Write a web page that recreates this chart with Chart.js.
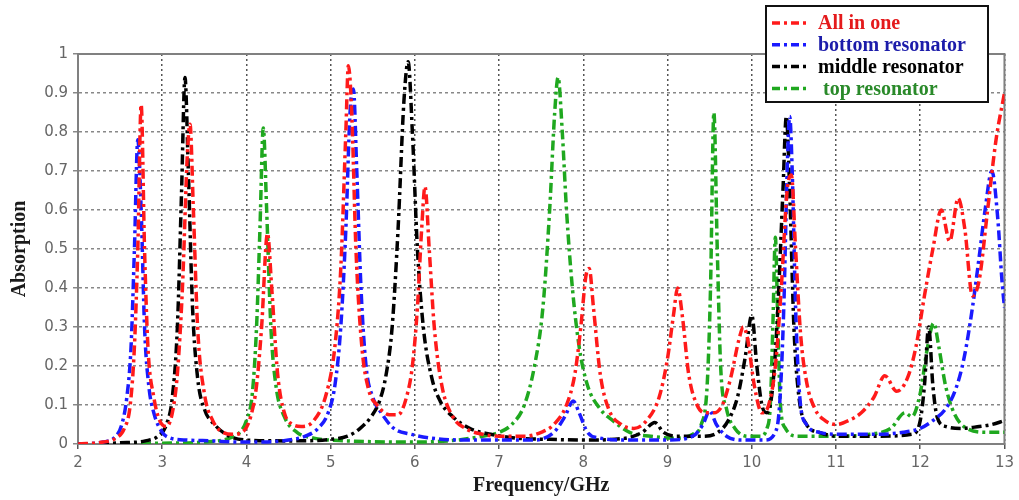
<!DOCTYPE html>
<html>
<head>
<meta charset="utf-8">
<script src="https://cdn.jsdelivr.net/npm/chart.js@4"></script>
<style>
  body { margin: 0; background: #fff; }
</style>
</head>
<body>
<canvas id="myChart" width="1019" height="500"></canvas>
<script>
// values, frequency in GHz
const allInOneFreq = [2.0, 2.3, 2.45, 2.55, 2.62, 2.67, 2.71, 2.75, 2.79, 2.83, 2.9, 2.97, 3.05, 3.12, 3.18, 3.24, 3.3, 3.33, 3.37, 3.42, 3.5, 3.6, 3.72, 3.85, 3.95, 4.05, 4.12, 4.18, 4.25, 4.3, 4.37, 4.45, 4.55, 4.65, 4.8, 4.95, 5.05, 5.12, 5.18, 5.21, 5.25, 5.3, 5.37, 5.45, 5.55, 5.7, 5.8, 5.9, 5.97, 6.03, 6.08, 6.12, 6.17, 6.23, 6.32, 6.45, 6.6, 6.8, 7.0, 7.3, 7.5, 7.65, 7.8, 7.9, 7.97, 8.03, 8.07, 8.12, 8.2, 8.3, 8.45, 8.6, 8.75, 8.9, 9.0, 9.07, 9.12, 9.18, 9.25, 9.35, 9.45, 9.55, 9.65, 9.75, 9.85, 9.9, 9.95, 10.03, 10.12, 10.2, 10.28, 10.35, 10.42, 10.47, 10.52, 10.58, 10.65, 10.75, 10.87, 11.0, 11.15, 11.3, 11.45, 11.58, 11.72, 11.85, 11.95, 12.05, 12.15, 12.25, 12.35, 12.45, 12.53, 12.62, 12.7, 12.8, 12.9, 13.0];
const allInOneAbs = [0.0, 0.005, 0.015, 0.04, 0.1, 0.25, 0.5, 0.87, 0.5, 0.25, 0.12, 0.06, 0.045, 0.08, 0.18, 0.4, 0.75, 0.82, 0.6, 0.3, 0.13, 0.06, 0.03, 0.025, 0.03, 0.07, 0.15, 0.3, 0.54, 0.4, 0.18, 0.08, 0.05, 0.045, 0.06, 0.13, 0.25, 0.45, 0.8, 0.97, 0.85, 0.5, 0.25, 0.14, 0.1, 0.075, 0.075, 0.12, 0.2, 0.35, 0.55, 0.66, 0.5, 0.3, 0.15, 0.07, 0.04, 0.025, 0.02, 0.02, 0.03, 0.05, 0.1, 0.18, 0.3, 0.43, 0.45, 0.35, 0.18, 0.09, 0.05, 0.04, 0.06, 0.12, 0.22, 0.33, 0.4, 0.32, 0.18, 0.1, 0.08, 0.08, 0.1, 0.17, 0.27, 0.3, 0.27, 0.15, 0.08, 0.1, 0.2, 0.4, 0.65, 0.69, 0.5, 0.28, 0.16, 0.09, 0.06, 0.05, 0.06, 0.08, 0.12, 0.175, 0.135, 0.17, 0.25, 0.38, 0.5, 0.6, 0.52, 0.63, 0.55, 0.38, 0.42, 0.6, 0.78, 0.9];

const bottomFreq = [2.0, 2.3, 2.45, 2.52, 2.58, 2.63, 2.67, 2.71, 2.75, 2.79, 2.84, 2.9, 3.0, 3.1, 3.3, 3.6, 3.9, 4.2, 4.5, 4.7, 4.85, 4.97, 5.05, 5.12, 5.18, 5.23, 5.27, 5.31, 5.36, 5.42, 5.5, 5.6, 5.75, 5.95, 6.2, 6.6, 7.0, 7.4, 7.65, 7.78, 7.88, 7.95, 8.05, 8.2, 8.5, 9.0, 9.3, 9.42, 9.5, 9.58, 9.7, 9.9, 10.15, 10.28, 10.33, 10.38, 10.42, 10.45, 10.48, 10.52, 10.57, 10.65, 10.8, 11.0, 11.5, 11.8, 12.0, 12.15, 12.3, 12.42, 12.52, 12.62, 12.7, 12.77, 12.85, 12.92, 12.97, 13.0];
const bottomAbs = [0.0, 0.005, 0.02, 0.05, 0.12, 0.25, 0.5, 0.78, 0.6, 0.3, 0.15, 0.08, 0.03, 0.015, 0.01, 0.008, 0.005, 0.005, 0.01, 0.02, 0.04, 0.08, 0.15, 0.3, 0.55, 0.85, 0.91, 0.7, 0.4, 0.2, 0.12, 0.08, 0.04, 0.025, 0.015, 0.01, 0.01, 0.01, 0.03, 0.07, 0.11, 0.08, 0.03, 0.015, 0.01, 0.01, 0.02, 0.05, 0.085, 0.05, 0.02, 0.01, 0.01, 0.03, 0.1, 0.35, 0.7, 0.84, 0.7, 0.35, 0.12, 0.05, 0.03, 0.025, 0.025, 0.03, 0.04, 0.06, 0.09, 0.14, 0.22, 0.35, 0.48, 0.6, 0.7, 0.58, 0.42, 0.35];

const middleFreq = [2.0, 2.5, 2.8, 2.95, 3.05, 3.12, 3.18, 3.23, 3.27, 3.31, 3.36, 3.42, 3.5, 3.62, 3.8, 4.0, 4.5, 5.0, 5.2, 5.35, 5.48, 5.58, 5.66, 5.73, 5.8, 5.87, 5.92, 5.97, 6.03, 6.1, 6.2, 6.3, 6.45, 6.65, 6.9, 7.2, 7.6, 8.0, 8.5, 8.7, 8.85, 8.95, 9.1, 9.4, 9.6, 9.72, 9.83, 9.92, 10.0, 10.06, 10.12, 10.18, 10.25, 10.31, 10.37, 10.41, 10.45, 10.5, 10.56, 10.65, 10.8, 11.0, 11.5, 11.9, 12.0, 12.05, 12.1, 12.15, 12.2, 12.3, 12.5, 12.7, 12.85, 13.0];
const middleAbs = [0.0, 0.003, 0.008, 0.02, 0.05, 0.12, 0.3, 0.65, 0.94, 0.7, 0.35, 0.17, 0.09, 0.05, 0.02, 0.01, 0.008, 0.012, 0.02, 0.04, 0.07, 0.11, 0.18, 0.3, 0.55, 0.88, 0.98, 0.8, 0.5, 0.3, 0.17, 0.11, 0.07, 0.04, 0.025, 0.015, 0.012, 0.01, 0.015, 0.03, 0.055, 0.03, 0.02, 0.02, 0.03, 0.06, 0.12, 0.22, 0.33, 0.2, 0.1, 0.08, 0.15, 0.35, 0.65, 0.84, 0.65, 0.3, 0.12, 0.05, 0.03, 0.02, 0.02, 0.025, 0.06, 0.15, 0.3, 0.15, 0.07, 0.045, 0.04, 0.045, 0.05, 0.06];

const topFreq = [2.0, 3.0, 3.5, 3.8, 3.92, 4.0, 4.07, 4.12, 4.16, 4.2, 4.24, 4.29, 4.35, 4.45, 4.6, 4.8, 5.2, 6.0, 6.5, 6.8, 7.0, 7.15, 7.3, 7.42, 7.52, 7.6, 7.66, 7.7, 7.75, 7.8, 7.87, 7.95, 8.05, 8.2, 8.35, 8.55, 8.8, 9.1, 9.3, 9.4, 9.47, 9.51, 9.55, 9.59, 9.63, 9.7, 9.8, 9.95, 10.1, 10.18, 10.22, 10.25, 10.28, 10.31, 10.34, 10.4, 10.55, 11.0, 11.4, 11.65, 11.82, 11.9, 12.0, 12.08, 12.16, 12.22, 12.3, 12.4, 12.55, 12.8, 13.0];
const topAbs = [0.0, 0.002, 0.005, 0.015, 0.03, 0.06, 0.13, 0.3, 0.55, 0.81, 0.6, 0.3, 0.15, 0.07, 0.03, 0.015, 0.008, 0.005, 0.01, 0.02, 0.03, 0.05, 0.1, 0.2, 0.35, 0.6, 0.85, 0.94, 0.8, 0.6, 0.4, 0.25, 0.15, 0.09, 0.06, 0.03, 0.02, 0.015, 0.025, 0.05, 0.15, 0.4, 0.85, 0.5, 0.2, 0.09, 0.04, 0.02, 0.02, 0.04, 0.1, 0.3, 0.53, 0.3, 0.1, 0.04, 0.02, 0.02, 0.025, 0.04, 0.08, 0.07, 0.13, 0.24, 0.31, 0.25, 0.15, 0.08, 0.04, 0.03, 0.03];

const seriesNames = ["All in one", "bottom resonator", "middle resonator", "top resonator"];
const lineColors = ["#ff1a1a", "#1a1aff", "#000000", "#1fa81f"];
const textColors = ["#e41a1c", "#1c1caa", "#000000", "#2a8a2a"];

const dashDot = [10, 4, 3, 4];

function toPoints(freq, abs) {
  return freq.map((f, i) => ({ x: f, y: abs[i] }));
}

const allData = [
  toPoints(allInOneFreq, allInOneAbs),
  toPoints(bottomFreq, bottomAbs),
  toPoints(middleFreq, middleAbs),
  toPoints(topFreq, topAbs),
];

const datasets = seriesNames.map((name, i) => ({
  label: name,
  data: allData[i],
  borderColor: lineColors[i],
  backgroundColor: lineColors[i],
  borderWidth: 3.5,
  borderDash: dashDot,
  pointRadius: 0,
  fill: false,
  cubicInterpolationMode: "monotone",
}));

// grey frame round the plot area (top and right sides too)
const framePlugin = {
  id: "frame",
  beforeDatasetsDraw(chart) {
    const { ctx, chartArea: a } = chart;
    ctx.save();
    ctx.strokeStyle = "#808080";
    ctx.lineWidth = 2;
    ctx.strokeRect(a.left, a.top, a.right - a.left, a.bottom - a.top);
    ctx.restore();
  },
};

// boxed legend that sits over the top right of the plot
const legendBox = {
  id: "legendBox",
  afterDraw(chart) {
    const ctx = chart.ctx;
    const x0 = 766, y0 = 6, w = 222, h = 96;
    ctx.save();
    ctx.fillStyle = "#fff";
    ctx.fillRect(x0, y0, w, h);
    ctx.strokeStyle = "#111";
    ctx.lineWidth = 2;
    ctx.strokeRect(x0, y0, w, h);
    ctx.font = "bold 20px 'Liberation Serif', 'Times New Roman', serif";
    ctx.textBaseline = "middle";
    chart.data.datasets.forEach((ds, i) => {
      const y = y0 + 17 + i * 21.8;
      ctx.strokeStyle = ds.borderColor;
      ctx.lineWidth = 3.5;
      ctx.setLineDash([8, 4, 3, 4]);
      ctx.beginPath();
      ctx.moveTo(x0 + 6, y);
      ctx.lineTo(x0 + 44, y);
      ctx.stroke();
      ctx.setLineDash([]);
      ctx.fillStyle = textColors[i];
      ctx.fillText(ds.label, x0 + (i === 3 ? 57 : 52), y + 1);
    });
    ctx.restore();
  },
};

const config = {
  type: "line",
  data: { datasets: datasets },
  options: {
    responsive: false,
    animation: false,
    layout: { padding: { top: 54, right: 9, left: 0, bottom: 0 } },
    plugins: {
      legend: { display: false },
      tooltip: { enabled: false },
    },
    scales: {
      x: {
        type: "linear",
        min: 2,
        max: 13,
        ticks: {
          stepSize: 1,
          padding: 5,
          color: "#666",
          font: { family: "'DejaVu Sans', Verdana, sans-serif", size: 15 },
        },
        grid: { color: "#555", lineWidth: 1.5, tickLength: 5 },
        border: { color: "#808080", width: 2, dash: [2, 3] },
        title: {
          display: true,
          text: "Frequency/GHz",
          color: "#1a1a1a",
          padding: { top: 0, bottom: 2 },
          font: { family: "'Liberation Serif', 'Times New Roman', serif", size: 20, weight: "bold" },
        },
        afterFit(scale) {
          scale.height = 56;
        },
      },
      y: {
        min: 0,
        max: 1,
        ticks: {
          stepSize: 0.1,
          padding: 5,
          color: "#666",
          font: { family: "'DejaVu Sans', Verdana, sans-serif", size: 15 },
          callback: (value) => String(Math.round(value * 10) / 10),
        },
        grid: { color: "#888", lineWidth: 1.5, tickLength: 5 },
        border: { color: "#808080", width: 2, dash: [3, 3] },
        title: {
          display: true,
          text: "Absorption",
          color: "#1a1a1a",
          padding: { top: 8, bottom: 0 },
          font: { family: "'Liberation Serif', 'Times New Roman', serif", size: 20, weight: "bold" },
        },
        afterFit(scale) {
          scale.width = 78;
        },
      },
    },
  },
  plugins: [framePlugin, legendBox],
};

const myChart = new Chart(document.getElementById("myChart"), config);
</script>
</body>
</html>
